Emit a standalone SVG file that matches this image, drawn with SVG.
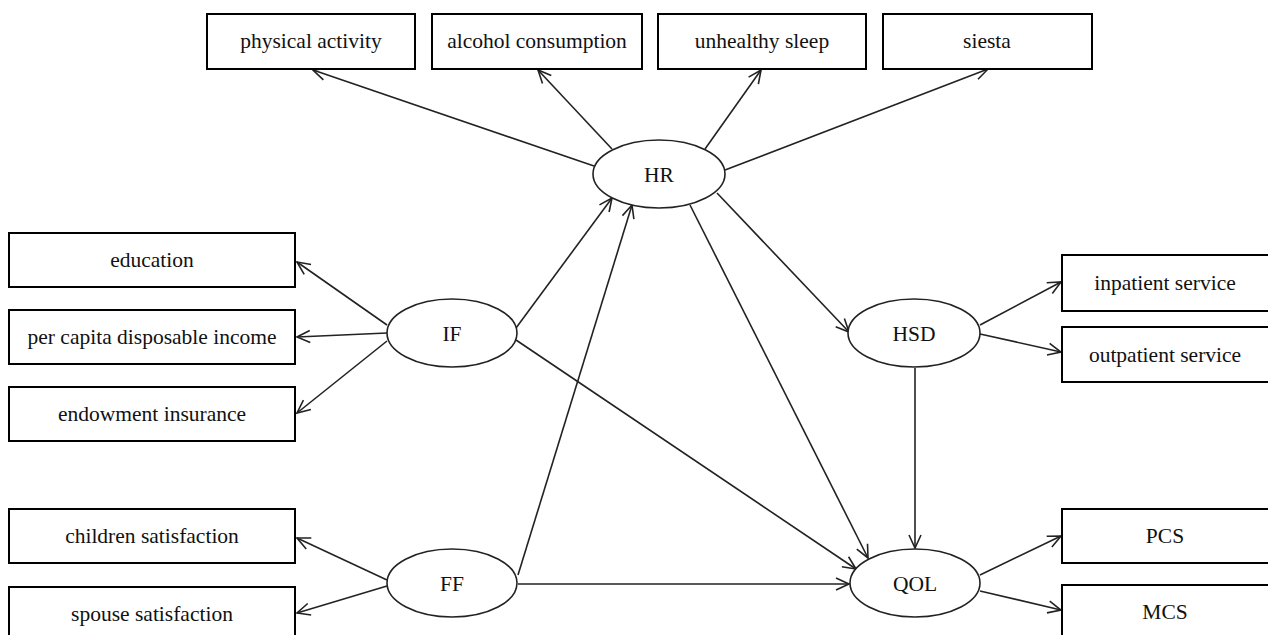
<svg xmlns="http://www.w3.org/2000/svg" width="1268" height="635" viewBox="0 0 1268 635">
<style>
.box{fill:#fff;stroke:#000;stroke-width:2}
.ell{fill:#fff;stroke:#222;stroke-width:1.6}
.t{font-family:"Liberation Serif","Times New Roman",serif;font-size:21.5px;fill:#111;text-anchor:middle;dominant-baseline:central}
.c{stroke:#222;stroke-width:1.6;fill:none;marker-end:url(#arr)}
</style>
<defs>
<marker id="arr" markerUnits="userSpaceOnUse" markerWidth="16" markerHeight="16" viewBox="-14 -7 16 14" refX="0" refY="0" orient="auto">
<path d="M-13,-6 L0,0 L-13,6" fill="none" stroke="#222" stroke-width="1.6"/>
</marker>
</defs>
<rect width="1268" height="635" fill="#fff"/>
<g id="connectors">
<line class="c" x1="594" y1="166" x2="313" y2="70"/>
<line class="c" x1="612" y1="149" x2="538" y2="70"/>
<line class="c" x1="705" y1="149" x2="761" y2="70"/>
<line class="c" x1="725" y1="170" x2="988" y2="69"/>
<line class="c" x1="387" y1="325" x2="297" y2="262"/>
<line class="c" x1="387" y1="333" x2="297" y2="337"/>
<line class="c" x1="387" y1="341" x2="297" y2="413"/>
<line class="c" x1="516" y1="328" x2="612" y2="198"/>
<line class="c" x1="516" y1="340" x2="856" y2="569"/>
<line class="c" x1="387" y1="580" x2="297" y2="538"/>
<line class="c" x1="387" y1="586" x2="297" y2="613"/>
<line class="c" x1="518" y1="575" x2="632" y2="205"/>
<line class="c" x1="518" y1="584" x2="849" y2="584"/>
<line class="c" x1="717" y1="193" x2="849" y2="332"/>
<line class="c" x1="690" y1="205" x2="868" y2="558"/>
<line class="c" x1="915" y1="368" x2="915" y2="548"/>
<line class="c" x1="980" y1="325" x2="1061" y2="282"/>
<line class="c" x1="980" y1="334" x2="1061" y2="352"/>
<line class="c" x1="980" y1="575" x2="1061" y2="536"/>
<line class="c" x1="980" y1="591" x2="1061" y2="610"/>
</g>
<g id="physical_activity"><rect class="box" x="207" y="14" width="208" height="55"/><text class="t" x="311" y="41">physical activity</text></g>
<g id="alcohol_consumption"><rect class="box" x="432" y="14" width="210" height="55"/><text class="t" x="537" y="41">alcohol consumption</text></g>
<g id="unhealthy_sleep"><rect class="box" x="658" y="14" width="208" height="55"/><text class="t" x="762" y="41">unhealthy sleep</text></g>
<g id="siesta"><rect class="box" x="883" y="14" width="209" height="55"/><text class="t" x="987" y="41">siesta</text></g>
<g id="education"><rect class="box" x="9" y="233" width="286" height="54"/><text class="t" x="152" y="260">education</text></g>
<g id="income"><rect class="box" x="9" y="310" width="286" height="54"/><text class="t" x="152" y="337">per capita disposable income</text></g>
<g id="endowment"><rect class="box" x="9" y="387" width="286" height="54"/><text class="t" x="152" y="414">endowment insurance</text></g>
<g id="children"><rect class="box" x="9" y="509" width="286" height="54"/><text class="t" x="152" y="536">children satisfaction</text></g>
<g id="spouse"><rect class="box" x="9" y="587" width="286" height="54"/><text class="t" x="152" y="614">spouse satisfaction</text></g>
<g id="inpatient"><rect class="box" x="1062" y="255" width="210" height="56"/><text class="t" x="1165" y="283">inpatient service</text></g>
<g id="outpatient"><rect class="box" x="1062" y="327" width="210" height="55"/><text class="t" x="1165" y="355">outpatient service</text></g>
<g id="PCS"><rect class="box" x="1062" y="509" width="210" height="54"/><text class="t" x="1165" y="536">PCS</text></g>
<g id="MCS"><rect class="box" x="1062" y="585" width="210" height="56"/><text class="t" x="1165" y="612">MCS</text></g>
<g id="HR"><ellipse class="ell" cx="659" cy="174" rx="66" ry="34"/><text class="t" x="659" y="175">HR</text></g>
<g id="IF"><ellipse class="ell" cx="452" cy="333" rx="65" ry="34"/><text class="t" x="452" y="334">IF</text></g>
<g id="FF"><ellipse class="ell" cx="452" cy="583" rx="65" ry="34"/><text class="t" x="452" y="584">FF</text></g>
<g id="HSD"><ellipse class="ell" cx="914" cy="333" rx="66" ry="34"/><text class="t" x="914" y="334">HSD</text></g>
<g id="QOL"><ellipse class="ell" cx="915" cy="583" rx="65" ry="34"/><text class="t" x="915" y="584">QOL</text></g>
</svg>
